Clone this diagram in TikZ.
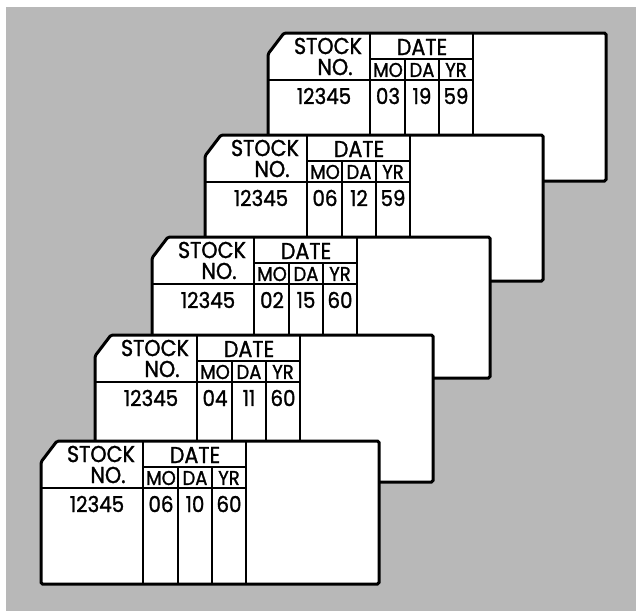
\documentclass[tikz,border=0pt]{standalone}
\usepackage{fontspec}
\setmainfont{Poppins}
\newfontfamily\cardfont{Poppins}[FakeBold=1.2, FakeStretch=0.9]
\usepackage{tikz}
\usetikzlibrary{positioning, calc}

\begin{document}
\begin{tikzpicture}[x=0.5pt, y=-0.5pt,
  card/.style={draw, fill=white, line width=1.5pt, rounded corners=0.8pt},
  rule/.style={line width=0.9pt},
  head/.style={inner sep=0pt, font=\cardfont\fontsize{11.5}{12}\selectfont},
  small/.style={inner sep=0pt, font=\cardfont\fontsize{10}{10}\selectfont},
  entry/.style={inner sep=0pt, font=\cardfont\fontsize{11}{12}\selectfont}]

  \useasboundingbox (0,0) rectangle (636,611);
  \fill[black!28] (6,7) rectangle (636,611);

  % cards, back to front: left / top / height / month / day / year
  \foreach \cx/\cy/\ch/\mo/\da/\yr [count=\i] in
    {268/33/148/03/19/59, 205/135/146/06/12/59, 152/237/141/02/15/60,
     95/335/147/04/11/60, 41/441/143/06/10/60} {
    \draw[card] (\cx,\cy+21) -- (\cx+16,\cy) -- (\cx+338,\cy)
      -- (\cx+338,\cy+\ch) -- (\cx,\cy+\ch) -- cycle;
    \coordinate (tl-\i) at (\cx,\cy);
    \coordinate (bl-\i) at (\cx,\cy+\ch);
    % ruling
    \draw[rule] (\cx+102,\cy) -- (\cx+102,\cy+\ch);
    \draw[rule] (\cx+205,\cy) -- (\cx+205,\cy+\ch);
    \draw[rule] (\cx+102,\cy+26) -- (\cx+205,\cy+26);
    \draw[rule] (\cx,\cy+47) -- (\cx+205,\cy+47);
    \draw[rule] (\cx+137,\cy+26) -- (\cx+137,\cy+\ch);
    \draw[rule] (\cx+171,\cy+26) -- (\cx+171,\cy+\ch);
    % texts
    \node[head] (stock-\i) at (\cx+60,\cy+13) {STOCK};
    \node[head] (no-\i) at (\cx+67,\cy+34) {NO.};
    \node[head] (date-\i) at (\cx+154,\cy+14) {DATE};
    \node[small] (mo-\i) at (\cx+120,\cy+37) {MO};
    \node[small] (da-\i) at (\cx+154,\cy+37) {DA};
    \node[small] (yr-\i) at (\cx+188,\cy+37) {YR};
    \node[entry] (num-\i) at (\cx+56,\cy+63) {12345};
    \node[entry] (month-\i) at (\cx+120,\cy+63) {\mo};
    \node[entry] (day-\i) at (\cx+154,\cy+63) {\da};
    \node[entry] (year-\i) at (\cx+188,\cy+63) {\yr};
  }

\end{tikzpicture}
\end{document}
